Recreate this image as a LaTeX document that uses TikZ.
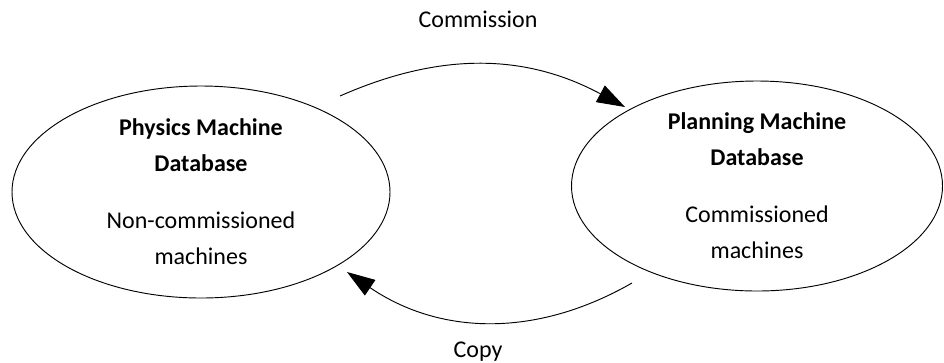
\documentclass[tikz,border=0pt]{standalone}
\usepackage{fontspec}
\setmainfont{Carlito}
\usepackage{tikz}
\usetikzlibrary{arrows.meta,shapes.geometric}
\tikzset{
    Database/.style = {ellipse,draw,line width=0.7pt,inner sep=0pt,align=center,
        font=\fontsize{18}{27}\selectfont},
    Flow/.style = {line width=0.7pt,-{Triangle[length=21pt,width=14pt]}},
    FlowLabel/.style = {anchor=base,font=\fontsize{18}{27}\selectfont}
}
\begin{document}
\begin{tikzpicture}[x=0.75pt,y=-0.75pt]
        \useasboundingbox (0,0) rectangle (944,362);
        \node[Database,minimum width=283.5pt,minimum height=159pt] (physdb) at (201,192)
            {\textbf{Physics Machine}\\\textbf{Database}\\[15.75pt]Non-commissioned\\machines};
        \node[Database,minimum width=278.25pt,minimum height=157.5pt] (plandb) at (757,186)
            {\textbf{Planning Machine}\\\textbf{Database}\\[15.75pt]Commissioned\\machines};
        \coordinate (commfrom) at (340,96);
        \coordinate (commto) at (625,107);
        \coordinate (copyfrom) at (632,283);
        \coordinate (copyto) at (347,272);
        \draw[Flow] (commfrom) to[bend left=26] (commto);
        \draw[Flow] (copyfrom) to[bend left=32] (copyto);
        \node[FlowLabel] (commlabel) at (478,27) {Commission};
        \node[FlowLabel] (copylabel) at (478,357) {Copy};
        \end{tikzpicture}
\end{document}
